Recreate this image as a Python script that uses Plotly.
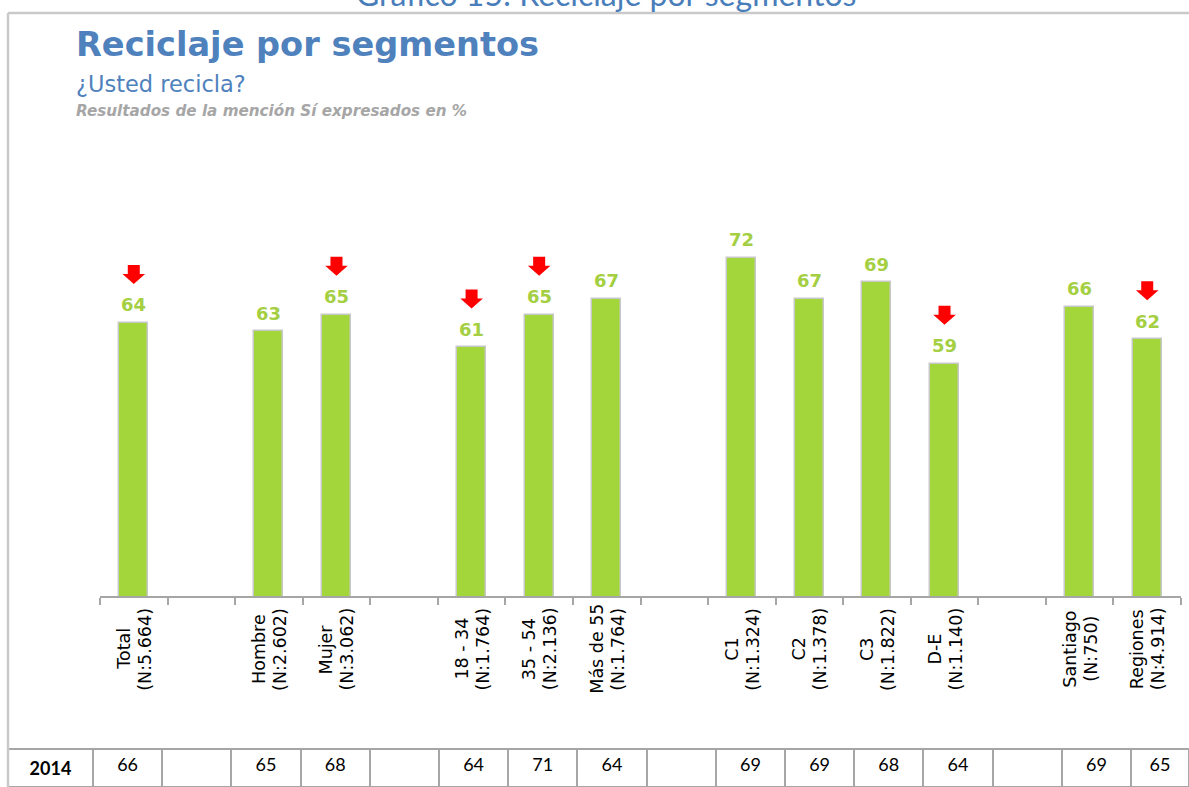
import plotly.graph_objects as go

# ---------------- data ----------------
segments = ["Total", "", "Hombre", "Mujer", "", "18 - 34", "35 - 54", "Más de 55", "",
            "C1", "C2", "C3", "D-E", "", "Santiago", "Regiones"]
sample_sizes = ["(N:5.664)", "", "(N:2.602)", "(N:3.062)", "", "(N:1.764)", "(N:2.136)", "(N:1.764)", "",
                "(N:1.324)", "(N:1.378)", "(N:1.822)", "(N:1.140)", "", "(N:750)", "(N:4.914)"]
values_current = [64, None, 63, 65, None, 61, 65, 67, None, 72, 67, 69, 59, None, 66, 62]
significant_drop = [True, False, False, True, False, True, True, False, False,
                    False, False, False, True, False, False, True]
table_year = "2014"
values_2014 = [66, None, 65, 68, None, 64, 71, 64, None, 69, 69, 68, 64, None, 69, 65]

title = "Reciclaje por segmentos"
subtitle = "¿Usted recicla?"
note = "Resultados de la mención Sí expresados en %"
top_caption = "Gráfico 15: Reciclaje por segmentos"

# ---------------- layout geometry ----------------
W, H = 1189, 787
def px_x(p):
    return p / W
def px_y(p):
    return (H - p) / H

plot_left, plot_right = 100, 1181
plot_bottom, plot_top = 596, 130
y_min = 30.5
px_per_unit = 8.15
y_max = y_min + (plot_bottom - plot_top) / px_per_unit
slot_px = (plot_right - plot_left) / len(segments)

BAR_GREEN = "#A3D63B"
LABEL_GREEN = "#A4CF42"
BLUE = "#4F81BD"
GRAY_LINE = "#A6A6A6"

fig = go.Figure()

idx = [i for i, v in enumerate(values_current) if v is not None]
fig.add_trace(go.Bar(
    x=idx, y=[values_current[i] for i in idx],
    width=0.43,
    marker=dict(color=BAR_GREEN, line=dict(color="#C8C8C8", width=1.5)),
    hoverinfo="skip", showlegend=False,
))

# red down arrows for significant drops, positioned from the data values
ax, ay = [], []
hw = 11.3 / slot_px
sw = 6.0 / slot_px
for i, v in enumerate(values_current):
    if v is None or not significant_drop[i]:
        continue
    tip = v + 39 / px_per_unit
    base = tip + 10 / px_per_unit
    top = tip + 19 / px_per_unit
    ax += [i - sw, i + sw, i + sw, i + hw, i, i - hw, i - sw, i - sw, None]
    ay += [top, top, base, base, tip, base, base, top, None]
fig.add_trace(go.Scatter(
    x=ax, y=ay, mode="lines", fill="toself", fillcolor="#FF0000",
    line=dict(width=0, color="#FF0000"), hoverinfo="skip", showlegend=False,
))

# bottom table
header_vals = [f"<b>{table_year}</b>"] + ["" if v is None else str(v) for v in values_2014]
col_widths = [85] + [69.2] * 15 + [58]
fig.add_trace(go.Table(
    domain=dict(x=[px_x(8), 1.0], y=[0, px_y(749)]),
    columnwidth=col_widths,
    header=dict(values=header_vals, height=32, align="center",
                line=dict(color=GRAY_LINE, width=2), fill=dict(color="white"),
                font=dict(family="Lato", size=18, color="black")),
    cells=dict(values=[[] for _ in header_vals], height=0,
               line=dict(color="white", width=0), fill=dict(color="white")),
))

annotations = []
# value labels
for i, v in enumerate(values_current):
    if v is None:
        continue
    annotations.append(dict(
        x=i, y=v, xref="x", yref="y", text=f"<b>{v}</b>", showarrow=False,
        yanchor="middle", xanchor="center", yshift=18,
        font=dict(family="DejaVu Sans", size=18, color=LABEL_GREEN)))
# category labels (two centered lines, rotated)
for i, (seg, n) in enumerate(zip(segments, sample_sizes)):
    if not seg:
        continue
    for line_txt, shift in ((seg, -10), (n, 11)):
        annotations.append(dict(
            x=i, y=px_y(649), xref="x", yref="paper", text=line_txt, showarrow=False,
            textangle=-90, xanchor="center", yanchor="middle", xshift=shift,
            font=dict(family="DejaVu Sans", size=17.5, color="black")))

# titles
annotations += [
    dict(x=px_x(606), y=px_y(-6), xref="paper", yref="paper", text=top_caption,
         showarrow=False, xanchor="center", yanchor="middle",
         font=dict(family="Lato", size=32, color="#4A7EBB")),
    dict(x=px_x(74), y=px_y(45), xref="paper", yref="paper", text=f"<b>{title}</b>",
         showarrow=False, xanchor="left", yanchor="middle",
         font=dict(family="DejaVu Sans", size=33.6, color=BLUE)),
    dict(x=px_x(74), y=px_y(84), xref="paper", yref="paper", text=subtitle,
         showarrow=False, xanchor="left", yanchor="middle",
         font=dict(family="DejaVu Sans", size=22.5, color=BLUE)),
    dict(x=px_x(74), y=px_y(111), xref="paper", yref="paper", text=f"<b><i>{note}</i></b>",
         showarrow=False, xanchor="left", yanchor="middle",
         font=dict(family="DejaVu Sans", size=15.2, color="#A6A6A6")),
]

shapes = [
    dict(type="line", xref="paper", yref="paper", x0=px_x(8), x1=1.0, y0=px_y(13), y1=px_y(13),
         line=dict(color="#C9C9C9", width=2.5)),
    dict(type="line", xref="paper", yref="paper", x0=px_x(8), x1=px_x(8), y0=px_y(13), y1=0,
         line=dict(color="#C9C9C9", width=2.5)),
]

fig.update_layout(
    width=W, height=H, margin=dict(l=0, r=0, t=0, b=0),
    paper_bgcolor="white", plot_bgcolor="white",
    bargap=0, showlegend=False,
    xaxis=dict(domain=[px_x(plot_left), px_x(plot_right)], range=[-0.5, len(segments) - 0.5],
               tickvals=[k - 0.5 for k in range(len(segments) + 1)],
               ticktext=["" for _ in range(len(segments) + 1)],
               ticks="outside", ticklen=7, tickcolor=GRAY_LINE, tickwidth=1.5,
               showline=True, linecolor=GRAY_LINE, linewidth=1.5,
               showgrid=False, zeroline=False, fixedrange=True),
    yaxis=dict(domain=[px_y(plot_bottom), px_y(plot_top)], range=[y_min, y_max],
               visible=False, showgrid=False, zeroline=False, fixedrange=True),
    annotations=annotations, shapes=shapes,
)

fig.write_html("out.html", config={"displayModeBar": False},
               post_script="document.body.style.margin='0px';")
